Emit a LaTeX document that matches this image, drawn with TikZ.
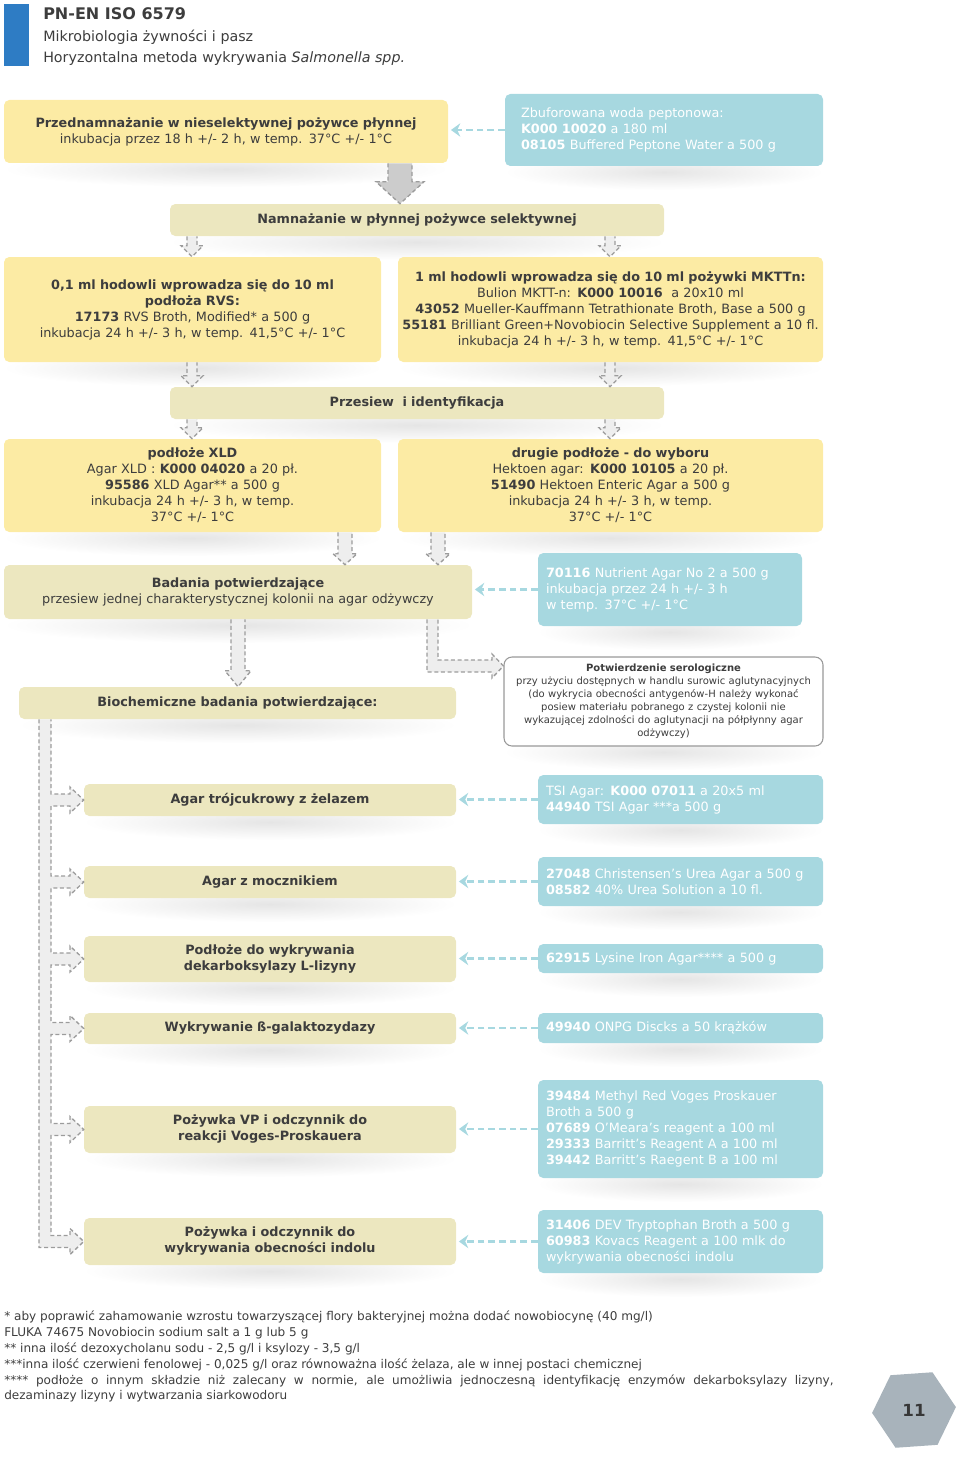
\documentclass[tikz,border=0pt]{standalone}
\usepackage{fontspec}
\setmainfont{DejaVu Sans}
\usetikzlibrary{calc,shapes.geometric,arrows.meta,fadings}
\definecolor{yel}{HTML}{FCEBA4}
\definecolor{oli}{HTML}{ECE7BF}
\definecolor{cya}{HTML}{A7D8E0}
\definecolor{txt}{HTML}{3D3D3D}
\definecolor{bar}{HTML}{2E7CC4}
\definecolor{arrgrey}{HTML}{9C9C9C}
\definecolor{arrfill}{HTML}{EEEEEE}
\definecolor{hexgrey}{HTML}{A8B3BB}
\tikzfading[name=shfade, inner color=transparent!0, outer color=transparent!100]

% box with soft shadow: name, style, inset, x1, y1, x2, y2, text (pixels)
\newcommand\bx[8]{\fill[black, opacity=0.1, path fading=shfade] (#4,#7-12) rectangle (#6,#7+24);
  \node[#2, minimum width={(#6-#4)*0.75pt}, minimum height={(#7-#5)*0.75pt}, text width={(#6-#4-2*#3)*0.75pt}] (#1) at ({(#4+#6)/2},{(#5+#7)/2}) {#8};}
% hollow arrow down: x, from, to, half shaft, half head, head length
\newcommand\downarr[7][]{\draw[blkarr,#1] let \p1=(#3.south), \p2=(#4.north), \p3=(#2,0) in
  (\x3-#5*0.75pt,\y1) -- (\x3-#5*0.75pt,\y2+#7*0.75pt) -- (\x3-#6*0.75pt,\y2+#7*0.75pt) -- (\x3,\y2)
  -- (\x3+#6*0.75pt,\y2+#7*0.75pt) -- (\x3+#5*0.75pt,\y2+#7*0.75pt) -- (\x3+#5*0.75pt,\y1);}

\begin{document}
\begin{tikzpicture}[x=0.75pt,y=-0.75pt,
  base/.style={rounded corners=4pt, text=txt, align=center, inner sep=0pt, font=\fontsize{9.6}{12}\selectfont},
  ybox/.style={base, fill=yel},
  obox/.style={base, fill=oli},
  cbox/.style={base, fill=cya, text=white, align=left},
  sbox/.style={base, fill=white, draw=black!40, line width=0.8pt, rounded corners=6pt, font=\fontsize{7.5}{9.75}\selectfont},
  blkarr/.style={draw=arrgrey, fill=arrfill, line width=1pt, dash pattern=on 3pt off 2pt},
  bigarr/.style={fill=black!20},
  cyarr/.style={draw=cya, line width=2.2pt, dash pattern=on 5pt off 3pt, shorten >=2pt, -{Stealth[length=7pt,width=10pt]}}]
\useasboundingbox (0,0) rectangle (960,1459);

% header
\fill[bar] (4,4) rectangle (29,66);
\node[anchor=base west, inner sep=0pt, text=txt, font=\fontsize{12}{14}\selectfont\bfseries] (hd) at (43,20) {PN-EN ISO 6579};
\node[anchor=base west, inner sep=0pt, text=txt, font=\fontsize{10.7}{14}\selectfont] (hd2) at (43,42) {Mikrobiologia żywności i pasz};
\node[anchor=base west, inner sep=0pt, text=txt, font=\fontsize{10.7}{14}\selectfont] (hd3) at (43,63) {Horyzontalna metoda wykrywania \textit{Salmonella spp.}};

% boxes
\bx{pre}{ybox}{6}{4}{100}{448}{163}{\textbf{Przednamnażanie w nieselektywnej pożywce płynnej}\\ inkubacja przez 18 h +/- 2 h, w temp. 37°C +/- 1°C}
\bx{bpw}{cbox}{16}{505}{94}{823}{166}{Zbuforowana woda peptonowa:\\ \textbf{K000 10020} a 180 ml\\ \textbf{08105} Buffered Peptone Water a 500 g\\[3pt]}
\bx{nam}{obox}{8}{170}{204}{664}{236}{\textbf{Namnażanie w płynnej pożywce selektywnej}}
\bx{rvs}{ybox}{6}{4}{257}{381}{362}{\textbf{0,1 ml hodowli wprowadza się do 10 ml}\\ \textbf{podłoża RVS:}\\ \textbf{17173} RVS Broth, Modified* a 500 g\\ inkubacja 24 h +/- 3 h, w temp. 41,5°C +/- 1°C}
\bx{mktt}{ybox}{3}{398}{257}{823}{362}{\textbf{1 ml hodowli wprowadza się do 10 ml pożywki MKTTn:}\\ Bulion MKTT-n: \textbf{K000 10016}\ \ a 20x10 ml\\ \textbf{43052} Mueller-Kauffmann Tetrathionate Broth, Base a 500 g\\ \textbf{55181} Brilliant Green+Novobiocin Selective Supplement a 10 fl.\\ inkubacja 24 h +/- 3 h, w temp. 41,5°C +/- 1°C}
\bx{prz}{obox}{8}{170}{387}{664}{419}{\textbf{Przesiew\ \ i identyfikacja}}
\bx{xld}{ybox}{8}{4}{439}{381}{532}{\textbf{podłoże XLD}\\ Agar XLD : \textbf{K000 04020} a 20 pł.\\ \textbf{95586} XLD Agar** a 500 g\\ inkubacja 24 h +/- 3 h, w temp.\\ 37°C +/- 1°C}
\bx{hek}{ybox}{8}{398}{439}{823}{532}{\textbf{drugie podłoże - do wyboru}\\ Hektoen agar: \textbf{K000 10105} a 20 pł.\\ \textbf{51490} Hektoen Enteric Agar a 500 g\\ inkubacja 24 h +/- 3 h, w temp.\\ 37°C +/- 1°C}
\bx{bad}{obox}{6}{4}{565}{472}{619}{\textbf{Badania potwierdzające}\\ przesiew jednej charakterystycznej kolonii na agar odżywczy}
\bx{nut}{cbox}{8}{538}{553}{802}{626}{\textbf{70116} Nutrient Agar No 2 a 500 g\\ inkubacja przez 24 h +/- 3 h\\ w temp. 37°C +/- 1°C}
\bx{sero}{sbox}{5}{504}{657}{823}{746}{\textbf{Potwierdzenie serologiczne}\\ przy użyciu dostępnych w handlu surowic aglutynacyjnych\\ (do wykrycia obecności antygenów-H należy wykonać\\ posiew materiału pobranego z czystej kolonii nie\\ wykazującej zdolności do aglutynacji na półpłynny agar\\ odżywczy)}
\bx{bio}{obox}{8}{19}{687}{456}{719}{\textbf{Biochemiczne badania potwierdzające:}}
\bx{agar}{obox}{8}{84}{784}{456}{816}{\textbf{Agar trójcukrowy z żelazem}}
\bx{tsi}{cbox}{8}{538}{775}{823}{824}{TSI Agar: \textbf{K000 07011} a 20x5 ml\\ \textbf{44940} TSI Agar ***a 500 g}
\bx{urea}{obox}{8}{84}{866}{456}{898}{\textbf{Agar z mocznikiem}}
\bx{chr}{cbox}{8}{538}{857}{823}{906}{\textbf{27048} Christensen's Urea Agar a 500 g\\ \textbf{08582} 40\% Urea Solution a 10 fl.}
\bx{lys}{obox}{8}{84}{936}{456}{982}{\textbf{Podłoże do wykrywania}\\ \textbf{dekarboksylazy L-lizyny}}
\bx{lia}{cbox}{8}{538}{944}{823}{973}{\textbf{62915} Lysine Iron Agar**** a 500 g}
\bx{gal}{obox}{8}{84}{1013}{456}{1044}{\textbf{Wykrywanie ß-galaktozydazy}}
\bx{onpg}{cbox}{8}{538}{1013}{823}{1043}{\textbf{49940} ONPG Discks a 50 krążków}
\bx{vp}{obox}{8}{84}{1106}{456}{1153}{\textbf{Pożywka VP i odczynnik do}\\ \textbf{reakcji Voges-Proskauera}}
\bx{mrvp}{cbox}{8}{538}{1080}{823}{1178}{\textbf{39484} Methyl Red Voges Proskauer\\ Broth a 500 g\\ \textbf{07689} O'Meara's reagent a 100 ml\\ \textbf{29333} Barritt's Reagent A a 100 ml\\ \textbf{39442} Barritt's Raegent B a 100 ml}
\bx{ind}{obox}{8}{84}{1218}{456}{1265}{\textbf{Pożywka i odczynnik do}\\ \textbf{wykrywania obecności indolu}}
\bx{dev}{cbox}{8}{538}{1210}{823}{1273}{\textbf{31406} DEV Tryptophan Broth a 500 g\\ \textbf{60983} Kovacs Reagent a 100 mlk do\\ wykrywania obecności indolu}

% hollow arrows down
\downarr[bigarr]{400}{pre}{nam}{12}{24}{22}
\downarr{192}{nam}{rvs}{5}{11}{11}
\downarr{610}{nam}{mktt}{5}{11}{11}
\downarr{192}{rvs}{prz}{5}{11}{11}
\downarr{610}{mktt}{prz}{5}{11}{11}
\downarr{192}{prz}{xld}{5}{11}{11}
\downarr{610}{prz}{hek}{5}{11}{11}
\downarr{345}{xld}{bad}{7}{12}{11}
\downarr{438}{hek}{bad}{7}{12}{11}
\downarr{238}{bad}{bio}{7}{13}{16}

% bent arrow to serology
\draw[blkarr] let \p1=(bad.south), \p2=(sero.west), \p3=(427,672), \p4=(438,660), \p5=(492,666) in
  (\x3,\y1) -- (\x3,\y3) -- (\x5,\y3) -- (\x5,\y5-9pt) -- (\x2,\y5) -- (\x5,\y5+9pt)
  -- (\x5,\y4) -- (\x4,\y4) -- (\x4,\y1);

% branching bus
\draw[blkarr] let \p1=(bio.south), \p2=(agar.west), \p3=(urea.west), \p4=(lys.west),
  \p5=(gal.west), \p6=(vp.west), \p7=(ind.west), \p8=(39,0), \p9=(51,0), \p{h}=(70,0) in
  (\x8,\y1) -- (\x8,\y7-4.5pt) -- (\x{h},\y7-4.5pt) -- (\x{h},\y7-9.75pt) -- (\x7,\y7) -- (\x{h},\y7+9.75pt) -- (\x{h},\y7+4.5pt) -- (\x9,\y7+4.5pt)
  -- (\x9,\y6-4.5pt) -- (\x{h},\y6-4.5pt) -- (\x{h},\y6-9.75pt) -- (\x6,\y6) -- (\x{h},\y6+9.75pt) -- (\x{h},\y6+4.5pt) -- (\x9,\y6+4.5pt)
  -- (\x9,\y5-4.5pt) -- (\x{h},\y5-4.5pt) -- (\x{h},\y5-9.75pt) -- (\x5,\y5) -- (\x{h},\y5+9.75pt) -- (\x{h},\y5+4.5pt) -- (\x9,\y5+4.5pt)
  -- (\x9,\y4-4.5pt) -- (\x{h},\y4-4.5pt) -- (\x{h},\y4-9.75pt) -- (\x4,\y4) -- (\x{h},\y4+9.75pt) -- (\x{h},\y4+4.5pt) -- (\x9,\y4+4.5pt)
  -- (\x9,\y3-4.5pt) -- (\x{h},\y3-4.5pt) -- (\x{h},\y3-9.75pt) -- (\x3,\y3) -- (\x{h},\y3+9.75pt) -- (\x{h},\y3+4.5pt) -- (\x9,\y3+4.5pt)
  -- (\x9,\y2-4.5pt) -- (\x{h},\y2-4.5pt) -- (\x{h},\y2-9.75pt) -- (\x2,\y2) -- (\x{h},\y2+9.75pt) -- (\x{h},\y2+4.5pt) -- (\x9,\y2+4.5pt)
  -- (\x9,\y1);

% dashed links from products
\draw[cyarr] (bpw.west) -- (pre.east |- bpw.west);
\draw[cyarr] (nut.west) -- (bad.east |- nut.west);
\draw[cyarr] (tsi.west) -- (agar.east |- tsi.west);
\draw[cyarr] (chr.west) -- (urea.east |- chr.west);
\draw[cyarr] (lia.west) -- (lys.east |- lia.west);
\draw[cyarr] (onpg.west) -- (gal.east |- onpg.west);
\draw[cyarr] (mrvp.west) -- (vp.east |- mrvp.west);
\draw[cyarr] (dev.west) -- (ind.east |- dev.west);

% footnotes
\node[anchor=north west, inner sep=0pt, text=txt, align=justify, text width=622pt, font=\fontsize{9.05}{11.85}\selectfont] (fn) at (4,1311) {%
* aby poprawić zahamowanie wzrostu towarzyszącej flory bakteryjnej można dodać nowobiocynę (40 mg/l)\\
FLUKA 74675 Novobiocin sodium salt a 1 g lub 5 g\\
{}** inna ilość dezoxycholanu sodu - 2,5 g/l i ksylozy - 3,5 g/l\\
{}***inna ilość czerwieni fenolowej - 0,025 g/l oraz równoważna ilość żelaza, ale w innej postaci chemicznej\\
{}**** podłoże o innym składzie niż zalecany w normie, ale umożliwia jednoczesną identyfikację enzymów dekarboksylazy lizyny,\linebreak
dezaminazy lizyny i wytwarzania siarkowodoru};

% page number
\node[regular polygon, regular polygon sides=6, shape border rotate=4, minimum size=63pt, inner sep=0pt, fill=hexgrey, text=txt!90!black, font=\fontsize{12.5}{14}\selectfont\bfseries] (pg) at (914,1410) {11};
\end{tikzpicture}
\end{document}
